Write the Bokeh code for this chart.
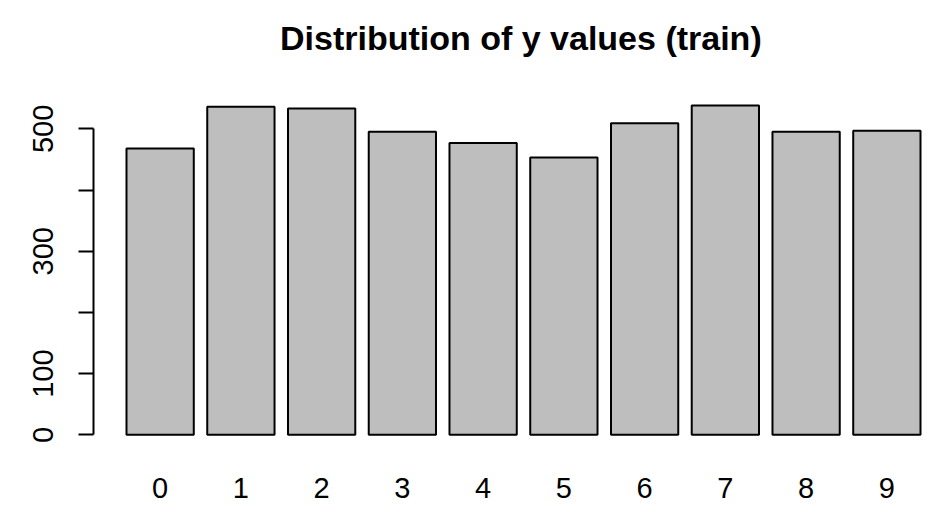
from bokeh.plotting import figure
from bokeh.models import ColumnDataSource, FixedTicker, Range1d, Div
from bokeh.layouts import column
from bokeh.embed import file_html
from bokeh.resources import INLINE

# Data
categories = ["0", "1", "2", "3", "4", "5", "6", "7", "8", "9"]
counts = [468, 536, 533, 495, 477, 453, 509, 538, 495, 497]
y_ticks = [0, 100, 200, 300, 400, 500]
y_tick_labels = ["0", "100", "", "300", "", "500"]
title_text = "Distribution of y values (train)"

# R barplot layout: width 1, space 0.2
bar_width = 1.0
space = 0.2
xs = [space + i * (bar_width + space) + bar_width / 2 for i in range(len(categories))]

src = ColumnDataSource(dict(x=xs, top=counts, cat=categories))

title_div = Div(text=title_text, width=934, height=80, margin=0,
                styles={"font-family": "'Liberation Sans', Arial, sans-serif",
                        "font-size": "34px", "font-weight": "bold",
                        "line-height": "76px", "text-align": "left",
                        "text-indent": "280px",
                        "color": "black", "white-space": "nowrap"})

p = figure(width=934, height=426, output_backend="svg", toolbar_location=None,
           x_range=Range1d(-0.2904, 12.208), y_range=Range1d(-20.75, 562.6),
           min_border_left=93, min_border_right=0, min_border_top=10, min_border_bottom=59,
           margin=0)

p.vbar(x="x", top="top", bottom=0, width=bar_width, source=src,
       fill_color="#BEBEBE", line_color="black", line_width=2)

p.outline_line_color = None
p.xgrid.grid_line_color = None
p.ygrid.grid_line_color = None
p.background_fill_color = "white"
p.border_fill_color = "white"

# x axis: labels only
xa = p.xaxis[0]
xa.ticker = FixedTicker(ticks=xs)
xa.major_label_overrides = {x: c for x, c in zip(xs, categories)}
xa.axis_line_color = None
xa.major_tick_line_color = None
xa.minor_tick_line_color = None
xa.major_label_text_font = "Liberation Sans"
xa.major_label_text_font_size = "29px"
xa.major_label_text_color = "black"
xa.major_label_standoff = 24

# y axis: R style
ya = p.yaxis[0]
ya.ticker = FixedTicker(ticks=y_ticks)
ya.major_label_overrides = {t: l for t, l in zip(y_ticks, y_tick_labels)}
ya.bounds = (y_ticks[0], y_ticks[-1])
ya.axis_line_width = 2
ya.axis_line_color = "black"
ya.major_tick_line_width = 2
ya.major_tick_line_color = "black"
ya.major_tick_out = 15
ya.major_tick_in = 0
ya.minor_tick_line_color = None
ya.major_label_orientation = "vertical"
ya.major_label_text_font = "Liberation Sans"
ya.major_label_text_font_size = "29px"
ya.major_label_text_color = "black"
ya.major_label_standoff = 25

layout = column(title_div, p, spacing=0, margin=0)

open("out.html", "w").write(file_html(layout, INLINE))
